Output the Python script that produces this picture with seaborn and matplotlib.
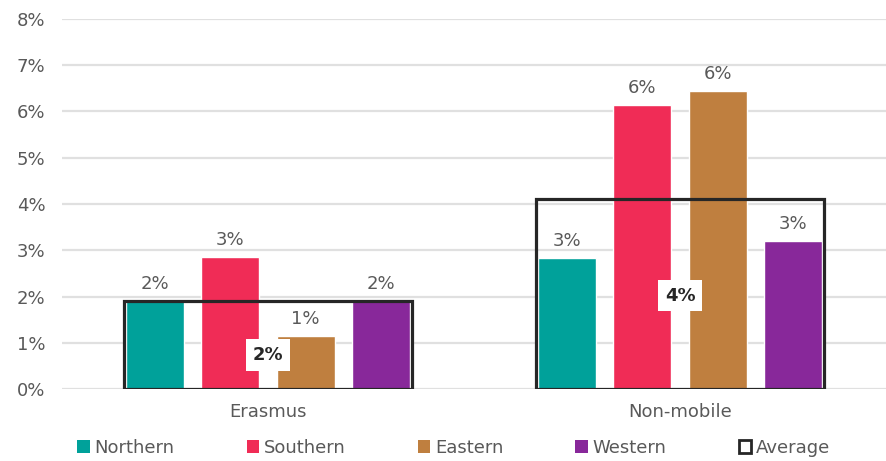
import numpy as np
import pandas as pd
import matplotlib
matplotlib.use("Agg")
import matplotlib.pyplot as plt
from matplotlib.patches import Patch
from matplotlib.ticker import FuncFormatter
import seaborn as sns

# Data (percent)
groups = ["Erasmus", "Non-mobile"]
regions = ["Northern", "Southern", "Eastern", "Western"]
northern = [1.90, 2.83]
southern = [2.85, 6.14]
eastern = [1.15, 6.44]
western = [1.90, 3.20]
average = [1.90, 4.10]

colors = ["#00A19A", "#F02C56", "#BF7F3F", "#88289A"]
text_grey = "#595959"

rows = []
for reg, vals in zip(regions, [northern, southern, eastern, western]):
    for g, v in zip(groups, vals):
        rows.append({"group": g, "region": reg, "value": v})
df = pd.DataFrame(rows)
avg_df = pd.DataFrame({"group": groups, "value": average})

sns.set_style("white")
plt.rcParams["font.family"] = ["DejaVu Sans"]

fig = plt.figure(figsize=(8.86, 4.61), dpi=100)
ax = fig.add_axes([0.07, 0.156, 0.93, 0.803])

sns.barplot(data=df, x="group", y="value", hue="region", order=groups,
            hue_order=regions, palette=colors, saturation=1, width=0.73,
            gap=0.23, legend=False, ax=ax, zorder=2)

for cont in ax.containers:
    vals = [b.get_height() for b in cont]
    ax.bar_label(cont, labels=[f"{v:.0f}%" for v in vals], padding=6,
                 color=text_grey, fontsize=13)

sns.barplot(data=avg_df, x="group", y="value", order=groups, fill=False,
            width=0.697, color="#262626", linewidth=2.3, ax=ax, zorder=3)

# the Erasmus average label sits a little lower to clear the Eastern label
label_shift = [-0.22, -0.03]
for i, v in enumerate(average):
    ax.text(i, v / 2 + label_shift[i], f"{v:.0f}%", ha="center", va="center",
            fontsize=13, fontweight="bold", color="#262626", zorder=4,
            bbox=dict(facecolor="white", edgecolor="none", pad=5))

ax.set_ylim(0, 8)
ax.set_xlim(-0.5, 1.5)
ax.set_yticks(np.arange(0, 9, 1))
ax.yaxis.set_major_formatter(FuncFormatter(lambda v, p: f"{v:.0f}%"))
ax.grid(axis="y", color="#E0E0E0", linewidth=1.6, zorder=0)
ax.set_axisbelow(True)
ax.tick_params(axis="both", length=0, labelsize=13, labelcolor=text_grey)
ax.tick_params(axis="y", pad=12)
ax.tick_params(axis="x", pad=10)
ax.set_xlabel("")
ax.set_ylabel("")
for s in ax.spines.values():
    s.set_visible(False)

handles = [Patch(facecolor=c, edgecolor="none") for c in colors]
handles.append(Patch(facecolor="white", edgecolor="#262626", linewidth=2))
fig.legend(handles, regions + ["Average"], loc="lower center", ncol=5,
           bbox_to_anchor=(0.512, -0.026), frameon=False, fontsize=13,
           labelcolor=text_grey, handlelength=0.7, handleheight=0.7,
           handletextpad=0.25, columnspacing=4.0)

fig.savefig("out.png", dpi=100)
